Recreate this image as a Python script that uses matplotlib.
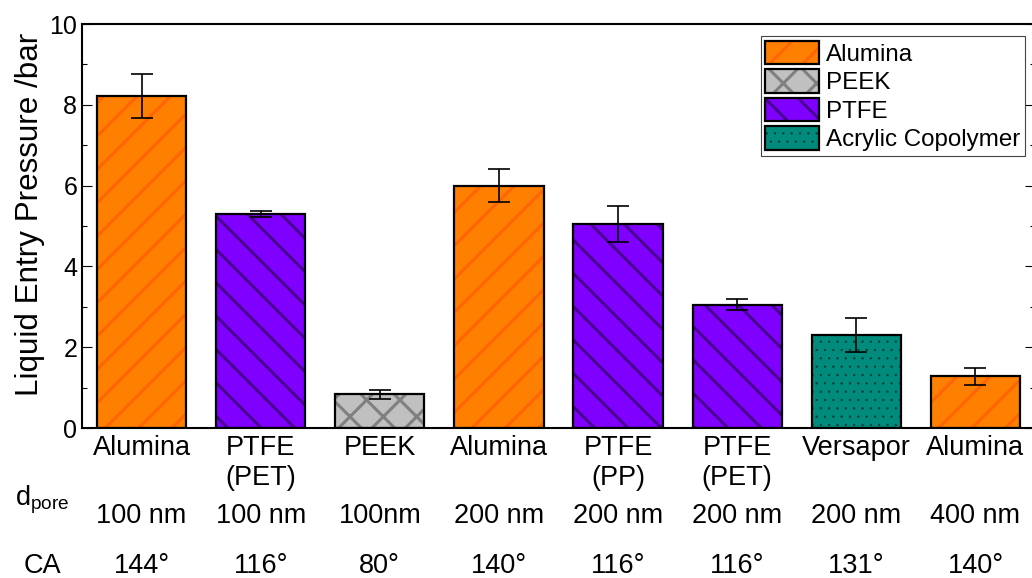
import matplotlib
matplotlib.use('Agg')
import matplotlib.pyplot as plt
import matplotlib.transforms as mtransforms
import numpy as np
from matplotlib.patches import Patch
from matplotlib.legend_handler import HandlerTuple
from matplotlib.ticker import MultipleLocator

# data
membranes = ['Alumina', 'PTFE\n(PET)', 'PEEK', 'Alumina', 'PTFE\n(PP)',
             'PTFE\n(PET)', 'Versapor', 'Alumina']
groups = ['Alumina', 'PTFE', 'PEEK', 'Alumina', 'PTFE', 'PTFE',
          'Acrylic Copolymer', 'Alumina']
lep = [8.22, 5.30, 0.83, 6.00, 5.05, 3.05, 2.30, 1.28]
lep_err = [0.54, 0.08, 0.12, 0.40, 0.45, 0.14, 0.42, 0.21]
pore_size = ['100 nm', '100 nm', '100nm', '200 nm', '200 nm', '200 nm',
             '200 nm', '400 nm']
contact_angle = ['144°', '116°', '80°', '140°', '116°', '116°', '131°', '140°']
legend_order = ['Alumina', 'PEEK', 'PTFE', 'Acrylic Copolymer']

# face colour, hatch colour, hatch
styles = {
    'Alumina': ('#ff8000', '#ff6400', '/'),
    'PEEK': ('#c0c0c0', '#808080', 'x'),
    'PTFE': ('#8000ff', '#4a0090', '\\'),
    'Acrylic Copolymer': ('#008b7d', '#003a32', '..'),
}
hatch_lw = {'/': 2.2, 'x': 2.2, '\\': 2.2, '..': 0.4}

plt.rcParams['font.family'] = ['Liberation Sans', 'DejaVu Sans']
plt.rcParams['mathtext.fontset'] = 'custom'
plt.rcParams['mathtext.rm'] = 'Liberation Sans'
plt.rcParams['hatch.linewidth'] = 2.2


def fix_hatch_width(patch):
    hatch = patch.get_hatch()
    if hatch in hatch_lw:
        if hasattr(patch, 'set_hatch_linewidth'):
            patch.set_hatch_linewidth(hatch_lw[hatch])
        else:
            patch._hatch_linewidth = hatch_lw[hatch]


W, H, DPI = 1032, 578, 100
fig = plt.figure(figsize=(W / DPI, H / DPI), dpi=DPI)
ax = fig.add_axes([82 / W, 150 / H, 953 / W, 404 / H])

x = np.arange(len(lep))
for xi, h, g in zip(x, lep, groups):
    face, hcol, hatch = styles[g]
    bars = ax.bar(xi, h, 0.75, color=face, edgecolor=hcol, hatch=hatch,
                  linewidth=0, zorder=2)
    for b in bars:
        fix_hatch_width(b)
    ax.bar(xi, h, 0.75, fill=False, edgecolor='black', linewidth=1.6,
           zorder=3)
ax.errorbar(x, lep, yerr=lep_err, fmt='none', ecolor='black',
            elinewidth=1.2, capsize=8, capthick=1.2, zorder=4)

ax.set_xlim(-0.5, 7.5)
ax.set_ylim(0, 10)
ax.yaxis.set_major_locator(MultipleLocator(2))
ax.yaxis.set_minor_locator(MultipleLocator(1))
ax.set_xticks(x, membranes, fontsize=19.5)
ax.tick_params(axis='x', length=0, pad=5)
ax.tick_params(axis='y', which='both', direction='in', right=True,
               width=0.8, labelsize=18)
ax.tick_params(axis='y', which='major', length=7.2)
ax.tick_params(axis='y', which='minor', length=3.6)
for sp in ax.spines.values():
    sp.set_linewidth(1.5)

fig.text(30 / W, 1 - 214 / H, 'Liquid Entry Pressure /bar', rotation=90,
         ha='center', va='center', fontsize=22.6)

handles = []
for g in legend_order:
    face, hcol, hatch = styles[g]
    hp = Patch(facecolor=face, edgecolor=hcol, hatch=hatch, lw=0)
    fix_hatch_width(hp)
    handles.append((hp, Patch(fill=False, edgecolor='black', lw=1.6)))
leg = ax.legend(handles, legend_order, loc='upper right',
                bbox_to_anchor=(0.9895, 0.971), borderaxespad=0,
                handler_map={tuple: HandlerTuple(ndivide=1, pad=0)},
                fontsize=17.4, handlelength=2.2, handleheight=1.12,
                labelspacing=0.15, handletextpad=0.3, borderpad=0.2,
                fancybox=False, framealpha=1)
leg.get_frame().set_edgecolor('#444444')
leg.get_frame().set_linewidth(0.8)
for p in leg.findobj(Patch):
    fix_hatch_width(p)

trans = mtransforms.blended_transform_factory(ax.transData, fig.transFigure)
for xi, p, c in zip(x, pore_size, contact_angle):
    ax.text(xi, 1 - 516 / H, p, ha='center', va='center', fontsize=19.5,
            transform=trans)
    ax.text(xi, 1 - 566 / H, c, ha='center', va='center', fontsize=19.5,
            transform=trans)
fig.text(42 / W, 1 - 506 / H, r'$\mathrm{d_{pore}}$', ha='center',
         va='baseline', fontsize=19.5)
fig.text(42 / W, 1 - 566 / H, 'CA', ha='center', va='center', fontsize=19.5)

fig.savefig('out.png', dpi=DPI)
